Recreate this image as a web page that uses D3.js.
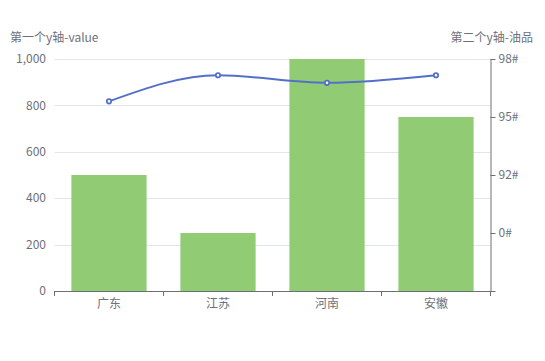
<!DOCTYPE html>
<html><head><meta charset="utf-8">
<script src="https://cdn.jsdelivr.net/npm/d3@7/dist/d3.min.js"></script>
<style>body{margin:0;background:#fff}text{font-family:"Noto Sans CJK SC","Microsoft YaHei",sans-serif}</style>
</head><body><svg id="c" width="545" height="361"></svg>
<script>
const categories = ["广东","江苏","河南","安徽"];
const barValues = [500, 250, 1000, 750];
const lineValues = [3.27, 3.72, 3.59, 3.72];
const leftTicks = [0, 200, 400, 600, 800, 1000];
const rightTickLabels = ["", "0#", "92#", "95#", "98#"];
const leftName = "第一个y轴-value";
const rightName = "第二个y轴-油品";

const svg = d3.select("#c");
const L = 54.5, R = 490.5, T = 59, B = 291;
const x = d3.scaleBand().domain(categories).range([L, R]);
const y = d3.scaleLinear().domain([0, 1000]).range([B, T]);
const y2 = d3.scaleLinear().domain([0, 4]).range([B, T]);
const axisColor = "#6e7079";

// grid lines
svg.append("g").selectAll("line").data(leftTicks.filter(d => d > 0)).join("line")
  .attr("x1", L).attr("x2", R)
  .attr("y1", d => Math.round(y(d)) + 0.5).attr("y2", d => Math.round(y(d)) + 0.5)
  .attr("stroke", "#e0e6f1");

// left labels
svg.append("g").selectAll("text").data(leftTicks).join("text")
  .attr("x", 46).attr("y", d => y(d)).attr("dy", "0.35em")
  .attr("text-anchor", "end").attr("font-size", 12).attr("fill", axisColor)
  .text(d => d3.format(",")(d));

// bars
svg.append("g").selectAll("rect").data(barValues).join("rect")
  .attr("x", (d, i) => x(categories[i]) + x.bandwidth() * 0.155)
  .attr("width", x.bandwidth() * 0.69)
  .attr("y", d => y(d)).attr("height", d => B - y(d))
  .attr("fill", "#91cc75");

// bottom axis
const xa = svg.append("g").attr("transform", `translate(0,${B})`)
  .call(d3.axisBottom(x).tickSize(0).tickPadding(8));
xa.select(".domain").remove();
xa.selectAll("text").attr("font-size", 12).attr("fill", axisColor)
  .style("font-family", '"Noto Sans CJK SC",sans-serif');
svg.append("line").attr("x1", L).attr("x2", R).attr("y1", B + 0.5).attr("y2", B + 0.5).attr("stroke", axisColor);
const bounds = categories.map(c => x(c)).concat([R]);
svg.append("g").selectAll("line").data(bounds).join("line")
  .attr("x1", d => d).attr("x2", d => d).attr("y1", B).attr("y2", B + 5).attr("stroke", axisColor);

// right axis
const ya = svg.append("g").attr("transform", `translate(${R},0)`)
  .call(d3.axisRight(y2).tickValues([0,1,2,3,4]).tickSize(5).tickPadding(3).tickFormat(d => rightTickLabels[d]));
ya.select(".domain").attr("stroke", axisColor).attr("d", `M0.5,${T}V${B+0.5}`);
ya.selectAll(".tick line").attr("stroke", axisColor);
ya.selectAll("text").attr("font-size", 12).attr("fill", axisColor)
  .style("font-family", '"Noto Sans CJK SC",sans-serif');

// axis names
svg.append("text").attr("x", 10).attr("y", 42).attr("font-size", 12).attr("fill", axisColor).text(leftName);
svg.append("text").attr("x", 533).attr("y", 42).attr("text-anchor", "end").attr("font-size", 12).attr("fill", axisColor).text(rightName);

// line
const pts = lineValues.map((v, i) => [x(categories[i]) + x.bandwidth() / 2, y2(v)]);
svg.append("path").attr("d", d3.line().curve(d3.curveMonotoneX)(pts))
  .attr("fill", "none").attr("stroke", "#5470c6").attr("stroke-width", 2);
svg.append("g").selectAll("circle").data(pts).join("circle")
  .attr("cx", d => d[0]).attr("cy", d => d[1]).attr("r", 2.2)
  .attr("fill", "#fff").attr("stroke", "#5470c6").attr("stroke-width", 1.8);
</script></body></html>
